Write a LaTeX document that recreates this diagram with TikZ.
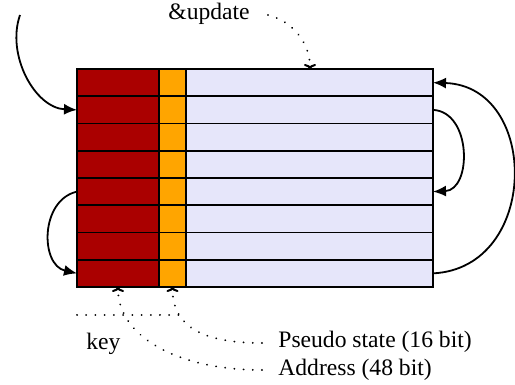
\documentclass[tikz,border=0pt]{standalone}
\usepackage{fontspec}
\setmainfont{Liberation Serif}
\usetikzlibrary{arrows.meta}
\definecolor{keyred}{RGB}{170,0,0}
\definecolor{stateorange}{RGB}{255,165,0}
\definecolor{addrlav}{RGB}{230,230,250}
\begin{document}
\begin{tikzpicture}[x=0.5pt,y=-0.5pt,
 cell/.style={draw=black, line width=0.95pt, inner sep=0pt, outer sep=0pt, anchor=north west, minimum height=13.625pt},
 keycell/.style={cell, fill=keyred, minimum width=41pt},
 statecell/.style={cell, fill=stateorange, minimum width=13.5pt},
 addrcell/.style={cell, fill=addrlav, minimum width=123.5pt},
 solidarrow/.style={-{Latex[length=6.5pt,width=5.5pt]}, line width=0.9pt},
 dotarrow/.style={-{To[length=2.5pt,width=6pt]}, line width=1pt, dash pattern=on 0.01pt off 4.6pt, line cap=round},
 dotline/.style={line width=1pt, dash pattern=on 0.01pt off 4.6pt, line cap=round},
 lbl/.style={anchor=base west, inner sep=0pt, font=\fontsize{11.8}{14}\selectfont}]
\useasboundingbox (0,0) rectangle (515,385);
\foreach \i in {1,...,8} {
  \pgfmathsetmacro\yy{69+27.25*(\i-1)}
  \node[keycell] (k\i) at (77,\yy) {};
  \node[statecell] (s\i) at (159,\yy) {};
  \node[addrcell] (a\i) at (186,\yy) {};
}
% labels
\node[lbl] (upd) at (168,20) {\&update};
\node[lbl] (key) at (86,350) {key};
\node[lbl] (ps) at (278,348) {Pseudo state (16 bit)};
\node[lbl] (addr) at (278,375) {Address (48 bit)};
% solid arrows
\coordinate (tlstart) at (20,15);
\draw[solidarrow] (tlstart) .. controls (6,55) and (35,108) .. (k2.west);
\draw[solidarrow] (k5.west) .. controls (40,200) and (40,265) .. (k8.west);
\draw[solidarrow] (a8.east) .. controls (540,268) and (540,86) .. (a1.east);
\draw[solidarrow] (a2.east) .. controls (472,112) and (472,190) .. (a5.east);
% dotted arrows
\coordinate (updstart) at (268,15);
\coordinate (updend) at (310,69);
\draw[dotarrow] (updstart) .. controls (295,22) and (310,45) .. (updend);
\coordinate (psstart) at (262,343);
\draw[dotarrow] (psstart) .. controls (200,343) and (172.5,325) .. (s8.south);
\coordinate (adstart) at (262,370);
\draw[dotarrow] (adstart) .. controls (175,370) and (118,335) .. (k8.south);
\coordinate (hl) at (77,315);
\coordinate (hr) at (180,315);
\draw[dotline] (hl) -- (hr);
\end{tikzpicture}
\end{document}
